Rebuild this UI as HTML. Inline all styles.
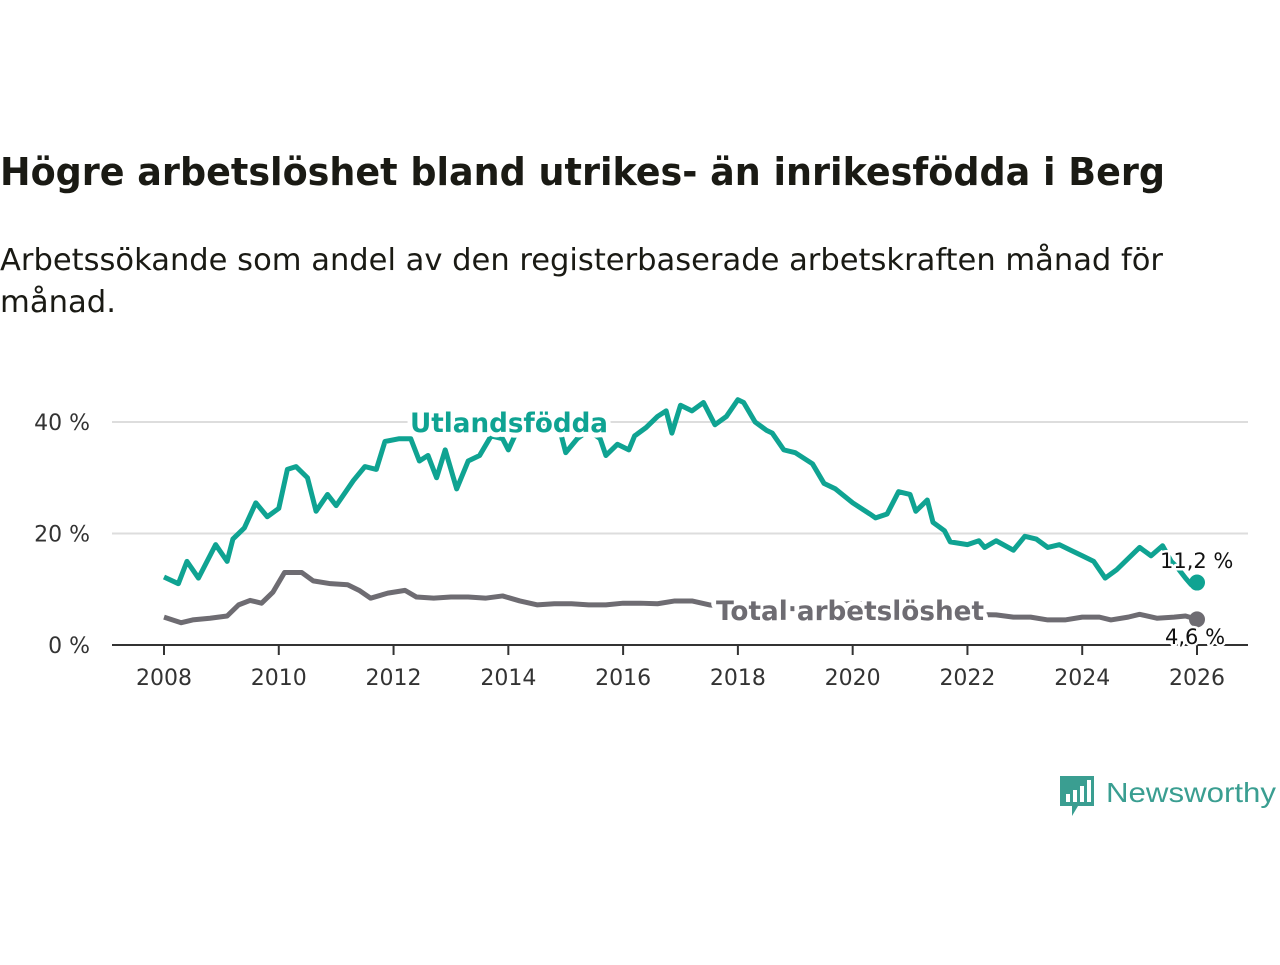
<!DOCTYPE html>
<html><head><meta charset="utf-8"><style>
body{margin:0;background:#fff;width:1280px;height:960px;overflow:hidden;font-family:"Liberation Sans","DejaVu Sans",sans-serif}
</style></head><body>
<svg width="1280" height="960">
<text x="0" y="185" font-size="38" font-weight="bold" fill="#1a1a14" font-family="DejaVu Sans, sans-serif" textLength="1165" lengthAdjust="spacingAndGlyphs">Högre arbetslöshet bland utrikes- än inrikesfödda i Berg</text>
<text x="0" y="270" font-size="30" fill="#1a1a14" font-family="DejaVu Sans, sans-serif" textLength="1163" lengthAdjust="spacingAndGlyphs">Arbetssökande som andel av den registerbaserade arbetskraften månad för</text>
<text x="0" y="312" font-size="30" fill="#1a1a14" font-family="DejaVu Sans, sans-serif" textLength="116" lengthAdjust="spacingAndGlyphs">månad.</text>
<g id="axes"></g>
<g id="lines"></g>
<g>
<path d="M1060 776h34v30h-16l-6 10v-10h-12z" fill="#3a9e91"/>
<rect x="1066" y="794" width="4" height="8" fill="#fff"/><rect x="1073" y="790" width="4" height="12" fill="#fff"/><rect x="1080" y="786" width="4" height="16" fill="#fff"/><rect x="1087" y="780" width="4" height="22" fill="#fff"/>
<text x="1106" y="802" font-size="28" fill="#3a9e91" font-family="Liberation Sans, sans-serif" textLength="170" lengthAdjust="spacingAndGlyphs">Newsworthy</text>
</g>
</svg>
<script>
const utYears=[2008,2008.25,2008.4,2008.6,2008.9,2009.1,2009.2,2009.4,2009.6,2009.8,2010,2010.15,2010.3,2010.5,2010.65,2010.85,2011,2011.3,2011.5,2011.7,2011.85,2012.1,2012.3,2012.45,2012.6,2012.75,2012.9,2013.1,2013.3,2013.5,2013.7,2013.9,2014,2014.2,2014.5,2014.9,2015,2015.2,2015.4,2015.6,2015.7,2015.9,2016.1,2016.2,2016.4,2016.6,2016.75,2016.85,2017,2017.2,2017.4,2017.6,2017.8,2018,2018.1,2018.3,2018.5,2018.6,2018.8,2019,2019.3,2019.5,2019.7,2020,2020.3,2020.4,2020.6,2020.8,2021,2021.1,2021.3,2021.4,2021.6,2021.7,2022,2022.2,2022.3,2022.5,2022.8,2023,2023.2,2023.4,2023.6,2023.8,2024,2024.2,2024.4,2024.6,2024.75,2025,2025.2,2025.4,2025.55,2025.65,2025.8,2025.9,2026];
const utValues=[12.2,11,15,12,18,15,19,21,25.5,23,24.5,31.5,32,30,24,27,25,29.5,32,31.5,36.5,37,37,33,34,30,35,28,33,34,37.5,37,35,39.5,40,38.5,34.5,37,38.5,37,34,36,35,37.5,39,41,42,38,43,42,43.5,39.5,41,44,43.5,40,38.5,38,35,34.5,32.5,29,28,25.5,23.5,22.8,23.5,27.5,27,24,26,22,20.5,18.5,18,18.7,17.5,18.7,17,19.5,19,17.5,18,17,16,15,12,13.5,15,17.5,16,17.8,15,14,12,10.8,11.2];
const totYears=[2008,2008.3,2008.5,2008.8,2009.1,2009.3,2009.5,2009.7,2009.9,2010.1,2010.4,2010.6,2010.9,2011.2,2011.4,2011.6,2011.9,2012.2,2012.4,2012.7,2013,2013.3,2013.6,2013.9,2014.2,2014.5,2014.8,2015.1,2015.4,2015.7,2016,2016.3,2016.6,2016.9,2017.2,2017.5,2017.7,2018,2019,2020,2021,2022,2022.5,2022.8,2023.1,2023.4,2023.7,2024,2024.3,2024.5,2024.8,2025,2025.3,2025.6,2025.8,2026];
const totValues=[5,4,4.5,4.8,5.2,7.2,8,7.5,9.5,13,13,11.5,11,10.8,9.8,8.4,9.3,9.8,8.6,8.4,8.6,8.6,8.4,8.8,7.9,7.2,7.4,7.4,7.2,7.2,7.5,7.5,7.4,7.9,7.9,7.2,7,6.8,6.5,7.5,7,5.5,5.4,5,5,4.5,4.5,5,5,4.5,5,5.5,4.8,5,5.2,4.6];
const yTicks=[0,20,40];
const xTicks=[2008,2010,2012,2014,2016,2018,2020,2022,2024,2026];
const NS="http://www.w3.org/2000/svg";
const X=t=>164+(t-2008)*(1197-164)/18;
const Y=v=>645-v*(645-422)/40;
function mk(tag,attrs,parent,text){const e=document.createElementNS(NS,tag);for(const k in attrs)e.setAttribute(k,attrs[k]);if(text!=null)e.textContent=text;parent.appendChild(e);return e;}
const ax=document.getElementById('axes'),ln=document.getElementById('lines');
yTicks.forEach(v=>{
 if(v>0){const g=mk('line',{x1:112,x2:1248,y1:Y(v),y2:Y(v),stroke:'#ddd','stroke-width':2},ax);
 
 }
 const t=mk('text',{x:90,y:Y(v)+8,'text-anchor':'end','font-size':22,fill:'#333','font-family':'DejaVu Sans, sans-serif'},ax,v+' %');
 
 
});
const base=mk('line',{x1:112,x2:1248,y1:645,y2:645,stroke:'#333','stroke-width':2},ax);


xTicks.forEach(v=>{
 const tk=mk('line',{x1:X(v),x2:X(v),y1:645,y2:655,stroke:'#333','stroke-width':2},ax);
 
 
 const t=mk('text',{x:X(v),y:685,'text-anchor':'middle','font-size':22,fill:'#333','font-family':'DejaVu Sans, sans-serif'},ax,String(v));
 
 
});
function series(xs,vs,color,name){
 const p=mk('polyline',{points:xs.map((t,i)=>X(t)+','+Y(vs[i])).join(' '),fill:'none',stroke:color,'stroke-width':5,'stroke-linejoin':'round'},ln);
 
 
 const c=mk('circle',{cx:X(xs[xs.length-1]),cy:Y(vs[vs.length-1]),r:8,fill:color},ln);
 
 
}
series(totYears,totValues,'#6e6c72','total');
series(utYears,utValues,'#0fa392','utland');
function label(x,y,txt,color,size,bold,name,len){
 const a={x:x,y:y,'font-size':size,fill:color,'font-weight':bold?'bold':'normal','font-family':'DejaVu Sans, sans-serif',stroke:'#fff','stroke-width':bold?10:5,'paint-order':'stroke','stroke-linejoin':'round'};
 if(len){a.textLength=len;a.lengthAdjust='spacingAndGlyphs';}
 const t=mk('text',a,ln,txt);
 
 
}
label(410,432,'Utlandsfödda','#0fa392',27,true,'utland-series-label',198);
label(716,620,'Total arbetslöshet','#6e6c72',27,true,'total-series-label',268);
label(1160,568,'11,2 %','#111',21,false,'utland-end-value');
label(1165,644,'4,6 %','#111',21,false,'total-end-value');
</script>
</body></html>
